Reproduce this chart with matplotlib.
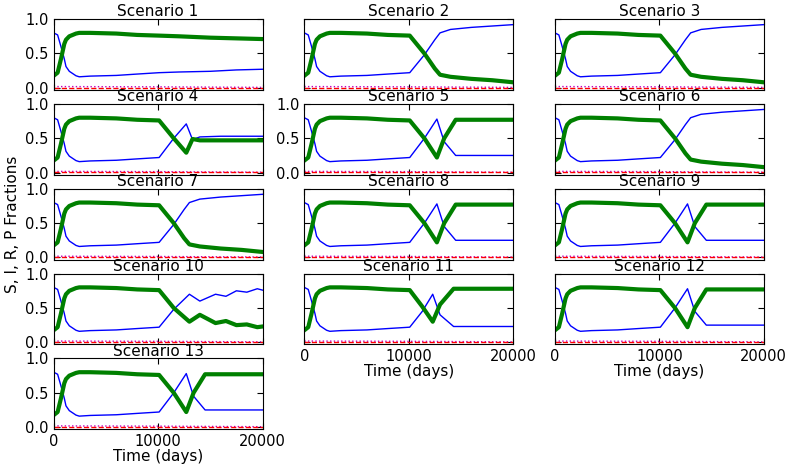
import matplotlib
matplotlib.use("Agg")
import matplotlib.pyplot as plt

plt.rcParams['font.family'] = ['DejaVu Sans']

# shared early phase (days)
t_early = [0, 380, 700, 1020, 1180, 1500, 2140, 2450, 3500, 6000, 8000, 10100]
s_early = [0.80, 0.77, 0.60, 0.42, 0.31, 0.24, 0.175, 0.16, 0.17, 0.18, 0.20, 0.22]
p_early = [0.175, 0.22, 0.42, 0.64, 0.70, 0.75, 0.79, 0.80, 0.80, 0.79, 0.77, 0.76]

# late-phase shapes
t_flat = [12000, 15000, 17500, 20000]
s_flat = [0.23, 0.24, 0.26, 0.27]
p_flat = [0.75, 0.73, 0.72, 0.71]

t_decl = [11500, 12500, 13000, 14000, 16000, 18000, 20000]
s_decl = [0.48, 0.70, 0.80, 0.85, 0.88, 0.90, 0.92]
p_decl = [0.50, 0.28, 0.19, 0.16, 0.13, 0.11, 0.08]

t_dip = [11500, 12700, 13400, 14500, 20000]
s_dip = [0.50, 0.78, 0.45, 0.25, 0.25]
p_dip = [0.50, 0.22, 0.50, 0.77, 0.77]

t_dip11 = [11300, 12300, 13000, 14300, 20000]
s_dip11 = [0.45, 0.70, 0.40, 0.23, 0.23]
p_dip11 = [0.52, 0.30, 0.55, 0.78, 0.78]

t_s4 = [11500, 12700, 13300, 14000, 16000, 20000]
s_s4 = [0.50, 0.71, 0.48, 0.52, 0.53, 0.53]
p_s4 = [0.50, 0.29, 0.49, 0.47, 0.47, 0.47]

t_s10 = [11500, 13000, 14000, 15500, 16500, 17500, 18500, 19500, 20000]
s_s10 = [0.48, 0.70, 0.60, 0.70, 0.67, 0.75, 0.73, 0.78, 0.76]
p_s10 = [0.50, 0.30, 0.40, 0.28, 0.31, 0.25, 0.26, 0.22, 0.23]

# small compartments near zero
t_small = [0, 10000, 20000]
i_small = [0.002, 0.002, 0.002]
r_small = [0.018, 0.014, 0.006]

profiles = {
    "flat": (t_flat, s_flat, p_flat),
    "decl": (t_decl, s_decl, p_decl),
    "dip": (t_dip, s_dip, p_dip),
    "dip11": (t_dip11, s_dip11, p_dip11),
    "s4": (t_s4, s_s4, p_s4),
    "s10": (t_s10, s_s10, p_s10),
}
scenario_shape = ["flat", "decl", "decl", "s4", "dip", "decl", "decl",
                  "dip", "dip", "s10", "dip11", "dip", "dip"]

ylabel_on = [1, 4, 5, 7, 10, 13]
xlabel_on = [11, 12, 13]

fig = plt.figure(figsize=(7.89, 4.67), dpi=100)
fig.subplots_adjust(left=0.068, right=0.968, top=0.959, bottom=0.081,
                    wspace=0.2, hspace=0.2)

for k in range(13):
    n = k + 1
    ax = fig.add_subplot(5, 3, n)
    lt, ls, lp = profiles[scenario_shape[k]]
    ax.plot(t_early + lt, s_early + ls, color='b', lw=1)
    ax.plot(t_early + lt, p_early + lp, color='g', lw=3)
    ax.plot(t_small, r_small, color='m', lw=1, ls=':')
    ax.plot(t_small, i_small, color='r', lw=1, ls='--')
    ax.set_xlim(0, 20000)
    ax.set_ylim(-0.03, 1.0)
    ax.set_xticks([0, 10000, 20000])
    ax.set_yticks([0.0, 0.5, 1.0])
    ax.tick_params(direction='in', top=True, right=True, labelsize=10.5, length=4)
    ax.set_title("Scenario %d" % n, fontsize=11, pad=2)
    if n not in ylabel_on:
        ax.set_yticklabels([])
    else:
        ax.set_yticklabels(["0.0", "0.5", "1.0"])
    if n not in xlabel_on:
        ax.set_xticklabels([])
    else:
        ax.set_xticklabels(["0", "10000", "20000"])
        ax.set_xlabel("Time (days)", fontsize=11, labelpad=0)
    if n == 7:
        ax.set_ylabel("S, I, R, P Fractions", fontsize=11)

fig.savefig("out.png", dpi=100)
